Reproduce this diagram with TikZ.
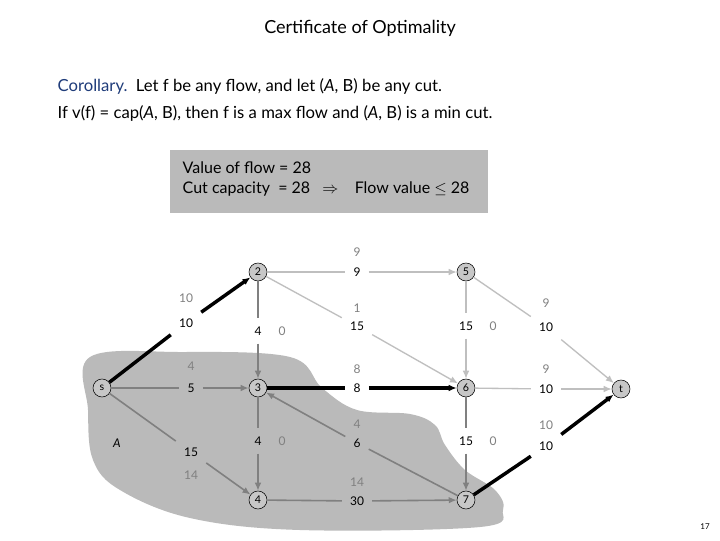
\documentclass[tikz,border=0pt]{standalone}
\usepackage{fontspec}
\setmainfont{Lato}
\usetikzlibrary{arrows.meta}
\begin{document}
\begin{tikzpicture}[x=0.75pt,y=-0.75pt,
  vert/.style={circle,draw,fill=black!22,minimum size=13.5pt,inner sep=0pt,font=\fontsize{8}{8}\selectfont},
  lab/.style={inner sep=6pt,font=\fontsize{9}{9}\selectfont},
  flo/.style={inner sep=1pt,text=black!50,font=\fontsize{9}{9}\selectfont},
  light/.style={draw=black!25,line width=1pt},
  mid/.style={draw=black!50,line width=1.2pt},
  heavy/.style={draw=black,line width=2.6pt},
  tip/.style={-{Latex[length=6pt,width=5pt]}}]
\useasboundingbox (0,0) rectangle (720,540);
\fill[white] (0,0) rectangle (720,540);
% cut region
\fill[black!27] plot[smooth cycle,tension=0.6] coordinates {(90,357) (180,352) (290,357) (322,388) (357,410) (410,414) (435,425) (445,445) (465,470) (495,490) (503,510) (480,527) (300,530) (190,518) (120,490) (93,460) (88,410)};
\node[font=\fontsize{13.5}{13.5}\selectfont] (title) at (360,28) {Certificate of Optimality};
\node[anchor=west,font=\fontsize{12.5}{15}\selectfont] (c1) at (53,86) {\textcolor[HTML]{1F3C7A}{Corollary.}\ \ Let f be any flow, and let (\textit{A}, B) be any cut.};
\node[anchor=west,font=\fontsize{12.5}{15}\selectfont] (c2) at (53,113) {If v(f) = cap(\textit{A}, B), then f is a max flow and (\textit{A}, B) is a min cut.};
\fill[black!27] (170,150) rectangle (488,213);
\node[anchor=west,font=\fontsize{12}{14}\selectfont] (b1) at (178,168) {Value of flow = 28};
\node[anchor=west,font=\fontsize{12}{14}\selectfont] (b2) at (178,189) {Cut capacity \ = 28 \ \ $\Rightarrow$ \ \ \ Flow value $\leq$ 28};
% vertices
\node[vert] (s) at (102,388) {s};
\node[vert] (n2) at (258,272) {2};
\node[vert] (n3) at (258,388) {3};
\node[vert] (n4) at (258,500) {4};
\node[vert] (n5) at (466,272) {5};
\node[vert] (n6) at (466,388) {6};
\node[vert] (n7) at (466,500) {7};
\node[vert] (t) at (621,389) {t};
\node[font=\fontsize{9}{9}\selectfont] (A) at (117,443) {\textit{A}};
% labels
\node[lab] (e1) at (186,323) {10}; \node[flo] (f1) at (186,298) {10};
\node[lab] (e2) at (191,388) {5}; \node[flo] (f2) at (191,366) {4};
\node[lab] (e3) at (191,452) {15}; \node[flo] (f3) at (191,475) {14};
\node[lab] (e4) at (258,331) {4}; \node[flo] (f4) at (282,331) {0};
\node[lab] (e5) at (258,441) {4}; \node[flo] (f5) at (282,441) {0};
\node[lab] (e6) at (357,272) {9}; \node[flo] (f6) at (357,252) {9};
\node[lab] (e7) at (357,326) {15}; \node[flo] (f7) at (357,308) {1};
\node[lab] (e8) at (357,388) {8}; \node[flo] (f8) at (357,369) {8};
\node[lab] (e9) at (357,443) {6}; \node[flo] (f9) at (357,424) {4};
\node[lab] (e10) at (357,501) {30}; \node[flo] (f10) at (357,482) {14};
\node[lab] (e11) at (466,326) {15}; \node[flo] (f11) at (493,326) {0};
\node[lab] (e12) at (466,441) {15}; \node[flo] (f12) at (493,441) {0};
\node[lab] (e13) at (546,327) {10}; \node[flo] (f13) at (546,303) {9};
\node[lab] (e14) at (546,389) {10}; \node[flo] (f14) at (546,369) {9};
\node[lab] (e15) at (546,446) {10}; \node[flo] (f15) at (546,425) {10};
% edges
\draw[heavy] (s) -- (e1); \draw[heavy,tip] (e1) -- (n2);
\draw[mid] (s) -- (e2); \draw[mid,tip] (e2) -- (n3);
\draw[mid] (s) -- (e3); \draw[mid,tip] (e3) -- (n4);
\draw[mid] (n2) -- (e4); \draw[mid,tip] (e4) -- (n3);
\draw[mid] (n3) -- (e5); \draw[mid,tip] (e5) -- (n4);
\draw[light] (n2) -- (e6); \draw[light,tip] (e6) -- (n5);
\draw[light] (n2) -- (e7); \draw[light,tip] (e7) -- (n6);
\draw[heavy] (n3) -- (e8); \draw[heavy,tip] (e8) -- (n6);
\draw[mid] (n7) -- (e9); \draw[mid,tip] (e9) -- (n3);
\draw[mid] (n4) -- (e10); \draw[mid,tip] (e10) -- (n7);
\draw[light] (n5) -- (e11); \draw[light,tip] (e11) -- (n6);
\draw[mid] (n6) -- (e12); \draw[mid,tip] (e12) -- (n7);
\draw[light] (n5) -- (e13); \draw[light,tip] (e13) -- (t);
\draw[light] (n6) -- (e14); \draw[light,tip] (e14) -- (t);
\draw[heavy] (n7) -- (e15); \draw[heavy,tip] (e15) -- (t);
\node[font=\fontsize{6}{6}\selectfont] (pg) at (705,527) {17};
\end{tikzpicture}
\end{document}
